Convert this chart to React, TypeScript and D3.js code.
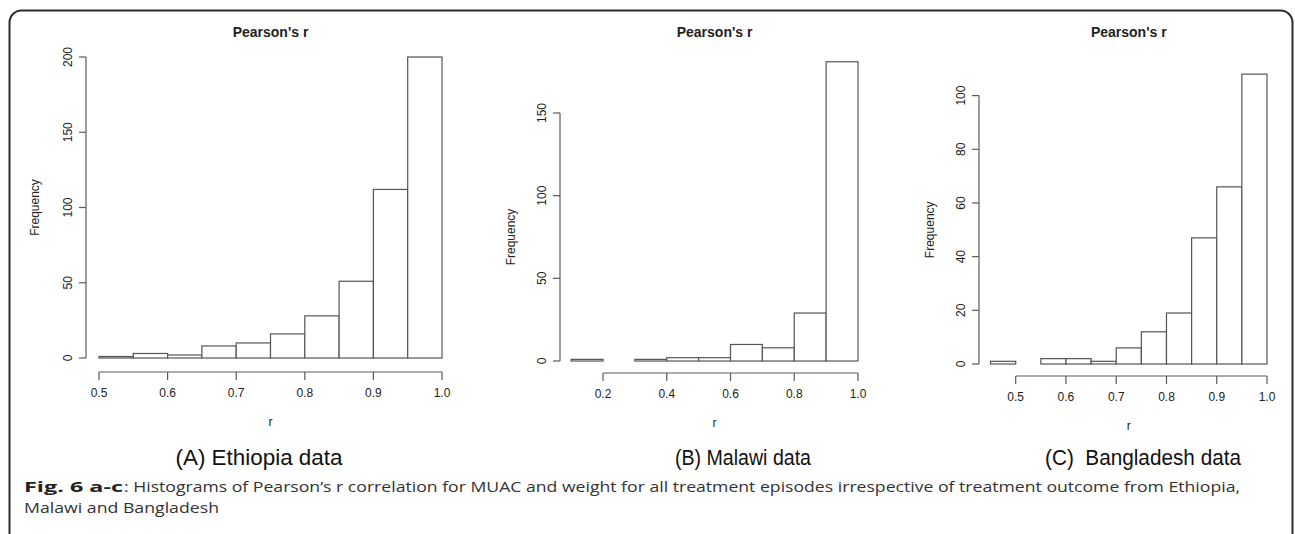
import React from "react";
import * as d3 from "d3";

const ethiopiaEdges = [0.5, 0.55, 0.6, 0.65, 0.7, 0.75, 0.8, 0.85, 0.9, 0.95, 1.0];
const ethiopiaCounts = [1, 3, 2, 8, 10, 16, 28, 51, 112, 200];
const ethiopiaXTicks = [0.5, 0.6, 0.7, 0.8, 0.9, 1.0];
const ethiopiaYTicks = [0, 50, 100, 150, 200];

const malawiEdges = [0.1, 0.2, 0.3, 0.4, 0.5, 0.6, 0.7, 0.8, 0.9, 1.0];
const malawiCounts = [1, 0, 1, 2, 2, 10, 8, 29, 181];
const malawiXTicks = [0.2, 0.4, 0.6, 0.8, 1.0];
const malawiYTicks = [0, 50, 100, 150];

const bangladeshEdges = [0.45, 0.5, 0.55, 0.6, 0.65, 0.7, 0.75, 0.8, 0.85, 0.9, 0.95, 1.0];
const bangladeshCounts = [1, 0, 2, 2, 1, 6, 12, 19, 47, 66, 108];
const bangladeshXTicks = [0.5, 0.6, 0.7, 0.8, 0.9, 1.0];
const bangladeshYTicks = [0, 20, 40, 60, 80, 100];

const panelCaptions = ["(A) Ethiopia data", "(B) Malawi data", "(C)  Bangladesh data"];
const titleText = "Pearson's r";
const xLabel = "r";
const yLabel = "Frequency";
const figBold = "Fig. 6 a-c";
const figLine1 = ": Histograms of Pearson\u2019s r correlation for MUAC and weight for all treatment episodes irrespective of treatment outcome from Ethiopia,";
const figLine2 = "Malawi and Bangladesh";

type PanelCfg = {
  edges: number[];
  counts: number[];
  xTicks: number[];
  yTicks: number[];
  xDomain: [number, number];
  xRange: [number, number];
  yDomain: [number, number];
  yRange: [number, number];
  yAxisX: number;
  xAxisY: number;
  freqX: number;
  caption: string;
  capX: number;
  capW: number;
};

const panels: PanelCfg[] = [
  {
    edges: ethiopiaEdges, counts: ethiopiaCounts, xTicks: ethiopiaXTicks, yTicks: ethiopiaYTicks,
    xDomain: [0.5, 1.0], xRange: [99, 442], yDomain: [0, 200], yRange: [358, 57],
    yAxisX: 86, xAxisY: 372, freqX: 39, caption: panelCaptions[0], capX: 259, capW: 167,
  },
  {
    edges: malawiEdges, counts: malawiCounts, xTicks: malawiXTicks, yTicks: malawiYTicks,
    xDomain: [0.2, 1.0], xRange: [603, 858], yDomain: [0, 150], yRange: [361, 113],
    yAxisX: 560, xAxisY: 373, freqX: 515, caption: panelCaptions[1], capX: 743, capW: 136,
  },
  {
    edges: bangladeshEdges, counts: bangladeshCounts, xTicks: bangladeshXTicks, yTicks: bangladeshYTicks,
    xDomain: [0.5, 1.0], xRange: [1015.7, 1267], yDomain: [0, 100], yRange: [364, 95.6],
    yAxisX: 979, xAxisY: 376, freqX: 934, caption: panelCaptions[2], capX: 1143, capW: 196,
  },
];

const AXIS = "#5a5a5a";
const TXT = "#222";
const FONT = "'Liberation Sans', Arial, Helvetica, sans-serif";
const CAPFONT = "'Open Sans', sans-serif";

function Panel({ p }: { p: PanelCfg }) {
  const x = d3.scaleLinear().domain(p.xDomain).range(p.xRange);
  const y = d3.scaleLinear().domain(p.yDomain).range(p.yRange);
  const bins = p.counts.map((c, i) => ({ x0: p.edges[i], x1: p.edges[i + 1], c }));
  const plotL = x(p.edges[0]);
  const plotR = x(p.edges[p.edges.length - 1]);
  const cx = (plotL + plotR) / 2;
  const yTop = y(p.yTicks[p.yTicks.length - 1]);
  const y0 = y(0);
  const midY = (y0 + yTop) / 2;
  return (
    <g>
      <text x={cx} y={37} textAnchor="middle" fontFamily={FONT} fontWeight="bold" fontSize={14} fill={TXT}>
        {titleText}
      </text>
      {bins.map((b, i) => (
        <rect key={i} x={x(b.x0)} y={y(b.c)} width={x(b.x1) - x(b.x0)} height={y0 - y(b.c)}
          fill="#fff" stroke="#555" strokeWidth={1.2} />
      ))}
      <line x1={p.yAxisX} x2={p.yAxisX} y1={y0} y2={yTop} stroke={AXIS} strokeWidth={1.2} />
      {p.yTicks.map((t) => (
        <g key={t}>
          <line x1={p.yAxisX - 7} x2={p.yAxisX} y1={y(t)} y2={y(t)} stroke={AXIS} strokeWidth={1.2} />
          <text transform={`translate(${p.yAxisX - 14},${y(t)}) rotate(-90)`} textAnchor="middle"
            fontFamily={FONT} fontSize={12} fill={TXT}>{String(t)}</text>
        </g>
      ))}
      <text transform={`translate(${p.freqX},${midY}) rotate(-90)`} textAnchor="middle"
        fontFamily={FONT} fontSize={12} fill={TXT}>{yLabel}</text>
      <line x1={x(p.xTicks[0])} x2={x(p.xTicks[p.xTicks.length - 1])} y1={p.xAxisY} y2={p.xAxisY}
        stroke={AXIS} strokeWidth={1.2} />
      {p.xTicks.map((t) => (
        <g key={t}>
          <line x1={x(t)} x2={x(t)} y1={p.xAxisY} y2={p.xAxisY + 8} stroke={AXIS} strokeWidth={1.2} />
          <text x={x(t)} y={p.xAxisY + 25} textAnchor="middle" fontFamily={FONT} fontSize={12} fill={TXT}>
            {t.toFixed(1)}
          </text>
        </g>
      ))}
      <text x={cx} y={p.xAxisY + 54} textAnchor="middle" fontFamily={FONT} fontSize={12} fill={TXT}>{xLabel}</text>
      <text x={p.capX} y={465} textAnchor="middle" fontFamily={FONT} fontSize={22} fill="#111"
        style={{ whiteSpace: "pre" }} textLength={p.capW} lengthAdjust="spacingAndGlyphs">{p.caption}</text>
    </g>
  );
}

export default function App() {
  return (
    <svg width={1295} height={534} style={{ position: "absolute", left: 0, top: 0, background: "#fff" }}>
      <rect x={0} y={0} width={1295} height={534} fill="#fff" />
      <rect x={9.5} y={10.5} width={1283} height={560} rx={12} ry={12} fill="none" stroke="#2a2a2a" strokeWidth={2} />
      {panels.map((p, i) => <Panel key={i} p={p} />)}
      <text x={24} y={492} fontFamily={CAPFONT} fontSize={14.5} fontWeight="bold" fill="#222"
        textLength={99} lengthAdjust="spacingAndGlyphs">{figBold}</text>
      <text x={124} y={492} fontFamily={CAPFONT} fontSize={14.5} fill="#333"
        textLength={1116} lengthAdjust="spacingAndGlyphs">{figLine1}</text>
      <text x={24} y={512.5} fontFamily={CAPFONT} fontSize={14.5} fill="#333"
        textLength={195} lengthAdjust="spacingAndGlyphs">{figLine2}</text>
    </svg>
  );
}
